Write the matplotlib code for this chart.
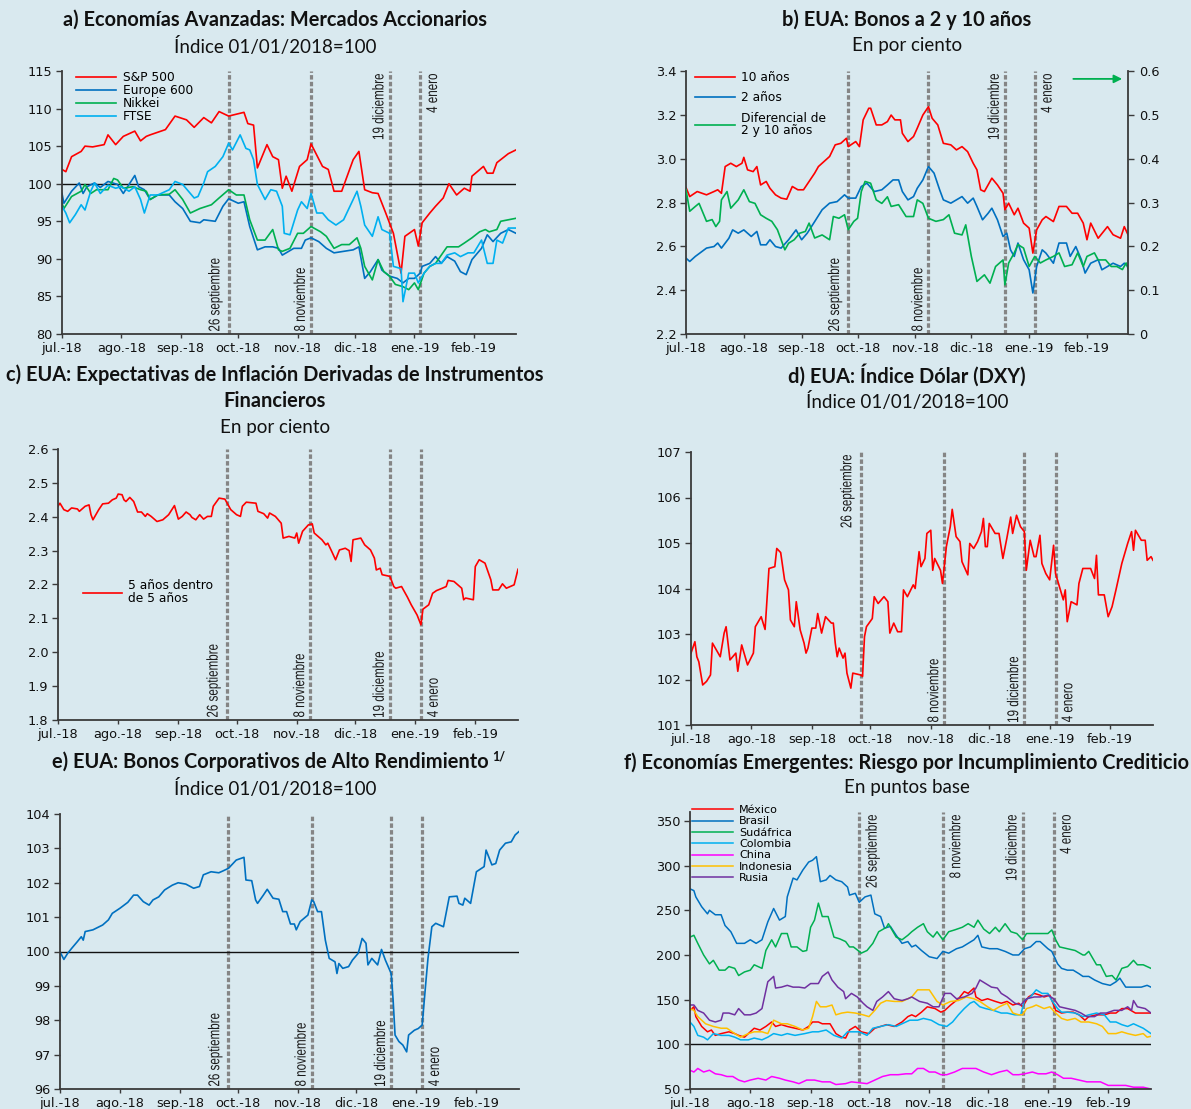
import numpy as np
import pandas as pd
import matplotlib
matplotlib.use('Agg')
import matplotlib.pyplot as plt
import matplotlib.dates as mdates
import matplotlib.transforms as mtransforms
from matplotlib.textpath import TextPath
from matplotlib.patches import PathPatch
from matplotlib.font_manager import FontProperties

# --- colores y fuentes ---
BG = '#d9e9ef'
AXC = '#3a3a3a'
RED = '#ff0000'
BLUE = '#0070c0'
GREEN = '#00b050'
LBLUE = '#00b0f0'
MAGENTA = '#ff00ff'
GOLD = '#ffc000'
PURPLE = '#7030a0'
GRAY = '#858585'
TITLE_FONT = ['Lato', 'DejaVu Sans']
TICK_FONT = ['DejaVu Sans']
TICK_SIZE = 9.3
EV_FP = FontProperties(family='Liberation Sans')
EV_SIZE_PX = 11.3 * 100 / 72
EV_SX = 0.74   # letra angosta

W, H = 1191, 1109

# --- eje de tiempo ---
base = pd.Timestamp('2018-07-01')
x_end = pd.Timestamp('2019-02-23')
month_starts = pd.to_datetime(['2018-07-01', '2018-08-01', '2018-09-01', '2018-10-01',
                               '2018-11-01', '2018-12-01', '2019-01-01', '2019-02-01'])
month_labels = ['jul.-18', 'ago.-18', 'sep.-18', 'oct.-18', 'nov.-18', 'dic.-18', 'ene.-19', 'feb.-19']
event_dates = pd.to_datetime(['2018-09-26', '2018-11-08', '2018-12-19', '2019-01-04'])
event_labels = ['26 septiembre', '8 noviembre', '19 diciembre', '4 enero']

# --- datos (día desde 01/07/2018, valor) ---
# a) mercados accionarios
sp500 = [(0,101.9),(2,101.6),(5,103.6),(10,104.3),(12,105.0),(16,104.9),(22,105.2),(24,106.5),(28,105.2),(32,106.3),
         (38,107.0),(41,105.7),(44,106.3),(46,106.5),(54,107.2),(59,109.0),(65,108.5),(69,107.5),(74,108.8),(78,108.1),
         (82,109.6),(87,109.0),(95,109.5),(97,108.0),(100,107.8),(102,102.1),(107,105.2),(110,103.6),(113,103.2),(115,99.4),
         (117,101.0),(120,99.0),(124,102.3),(128,103.2),(130,105.3),(136,102.3),(139,101.9),(142,99.0),(146,99.0),(152,103.2),
         (155,104.3),(158,99.2),(162,98.8),(165,98.7),(169,96.1),(173,93.4),(177,88.1),(179,93.0),(184,93.9),(186,91.7),
         (188,94.8),(192,96.1),(195,97.0),(199,98.1),(202,100.0),(206,98.5),(210,99.4),(213,99.0),(214,101.0),(220,102.3),
         (222,101.4),(225,101.4),(227,102.8),(233,104.0),(237,104.5)]
europe600 = [(0,98.7),(1,97.4),(5,99.0),(9,100.1),(11,98.7),(13,99.6),(17,100.1),(20,99.5),(24,100.3),(29,99.9),
             (32,98.7),(35,99.9),(38,101.1),(40,99.6),(43,99.2),(46,97.9),(50,98.5),(56,98.5),(59,97.6),(63,96.7),
             (67,95.0),(72,94.8),(74,95.2),(80,95.0),(84,97.0),(87,98.0),(92,97.4),(95,97.6),(98,94.3),(102,91.2),
             (106,91.6),(110,91.6),(113,91.4),(115,90.5),(117,90.8),(121,91.4),(125,91.4),(127,92.5),(130,92.8),(134,92.3),
             (138,91.4),(142,90.8),(147,91.0),(152,91.2),(155,91.6),(158,87.4),(161,88.3),(165,89.9),(167,88.5),(171,87.7),
             (175,87.4),(178,86.8),(181,87.4),(184,87.4),(187,88.1),(188,89.0),(192,89.4),(195,90.3),(198,89.4),(201,90.3),
             (205,89.7),(208,88.3),(211,87.9),(214,89.9),(219,91.4),(222,93.2),(225,92.3),(229,93.4),(233,93.9),(237,93.4)]
nikkei = [(0,97.4),(1,96.7),(5,98.3),(10,99.0),(12,99.9),(15,98.7),(18,99.2),(24,99.2),(27,100.7),(29,100.5),
          (32,99.4),(37,99.6),(41,99.2),(44,99.0),(46,97.9),(50,98.5),(56,98.6),(59,99.2),(63,97.9),(67,96.1),
          (72,96.7),(78,97.2),(82,98.1),(87,99.2),(91,98.5),(95,98.5),(98,95.2),(102,92.5),(106,92.5),(110,93.9),
          (113,91.2),(115,91.0),(119,91.4),(123,93.4),(126,93.4),(130,94.3),(135,93.6),(138,93.0),(142,91.4),(146,91.9),
          (150,91.9),(154,92.8),(156,91.4),(158,89.0),(162,87.2),(165,89.9),(168,88.3),(171,87.7),(174,86.6),(178,86.3),
          (181,85.9),(184,86.8),(186,85.9),(189,88.1),(192,89.0),(195,89.4),(201,91.6),(207,91.6),(210,92.1),(214,92.8),
          (218,93.6),(221,93.9),(223,93.6),(227,93.9),(229,95.0),(233,95.2),(237,95.4)]
ftse = [(0,97.0),(2,96.1),(4,94.8),(7,95.9),(10,97.2),(12,96.5),(15,99.0),(17,100.1),(20,98.7),(24,99.8),
        (28,99.4),(31,99.6),(35,99.0),(38,99.6),(41,97.9),(43,96.1),(46,98.5),(50,98.5),(56,99.2),(59,100.3),
        (63,99.9),(69,98.1),(71,98.3),(74,100.1),(76,101.6),(80,102.3),(84,103.6),(87,105.4),(89,104.5),(93,106.5),
        (96,104.7),(98,104.5),(100,103.2),(102,99.9),(106,97.9),(109,99.2),(112,99.0),(115,97.0),(116,93.4),(119,93.2),
        (123,96.5),(125,97.6),(128,96.7),(130,98.7),(133,96.1),(136,96.1),(139,95.2),(143,94.5),(147,95.2),(152,97.9),
        (154,99.0),(156,97.0),(158,94.5),(162,93.0),(165,95.6),(167,93.9),(171,93.4),(173,89.0),(177,88.7),(178,84.3),
        (181,88.1),(184,88.1),(186,86.8),(189,88.1),(192,89.0),(195,89.4),(198,89.4),(201,90.5),(205,90.8),(208,90.3),
        (212,90.8),(215,90.8),(219,92.5),(222,89.4),(225,89.4),(227,92.5),(230,92.1),(233,94.1),(237,94.1)]

# b) bonos 2 y 10 años
bono10 = [(0,2.868),(2,2.827),(6,2.850),(11,2.835),(15,2.850),(17,2.858),(19,2.842),(21,2.964),(24,2.979),(27,2.964),
          (30,2.979),(31,3.006),(33,2.949),(36,2.941),(38,2.964),(40,2.880),(43,2.896),(45,2.865),(48,2.835),(51,2.820),
          (54,2.815),(57,2.873),(60,2.858),(63,2.858),(66,2.896),(69,2.934),(71,2.964),(74,2.987),(77,3.010),(80,3.063),
          (83,3.070),(86,3.093),(87,3.055),(91,3.078),(93,3.055),(95,3.177),(98,3.230),(99,3.230),(102,3.154),(105,3.154),
          (108,3.169),(110,3.199),(112,3.177),(115,3.177),(116,3.116),(119,3.078),(122,3.101),(124,3.139),(127,3.199),(130,3.237),
          (132,3.184),(135,3.154),(138,3.070),(142,3.063),(145,3.040),(148,3.055),(151,3.032),(154,2.979),(156,2.949),(158,2.858),
          (160,2.850),(164,2.911),(167,2.880),(170,2.842),(171,2.767),(173,2.797),(176,2.744),(178,2.774),(181,2.706),(184,2.683),
          (186,2.569),(188,2.675),(191,2.721),(193,2.736),(197,2.713),(200,2.782),(204,2.782),(207,2.751),(210,2.751),(213,2.706),
          (215,2.630),(217,2.706),(221,2.637),(226,2.690),(229,2.653),(233,2.637),(235,2.690),(237,2.653)]
bono2 = [(0,2.546),(2,2.531),(5,2.554),(11,2.592),(15,2.599),(17,2.615),(19,2.592),(23,2.637),(25,2.675),(28,2.660),
         (31,2.675),(35,2.645),(38,2.668),(40,2.607),(43,2.607),(45,2.630),(48,2.599),(51,2.592),(55,2.630),(59,2.675),
         (62,2.630),(65,2.660),(69,2.713),(73,2.767),(77,2.797),(81,2.804),(85,2.835),(87,2.820),(91,2.820),(94,2.873),
         (97,2.888),(101,2.850),(105,2.858),(108,2.880),(111,2.903),(114,2.903),(116,2.850),(119,2.812),(122,2.827),(124,2.865),
         (127,2.903),(130,2.964),(133,2.934),(136,2.858),(138,2.812),(142,2.797),(145,2.812),(148,2.827),(151,2.797),(154,2.820),
         (156,2.782),(159,2.721),(162,2.751),(164,2.774),(167,2.721),(170,2.645),(172,2.660),(174,2.584),(176,2.554),(178,2.615),
         (181,2.539),(184,2.493),(186,2.387),(188,2.508),(191,2.584),(193,2.569),(197,2.523),(200,2.615),(204,2.615),(206,2.554),
         (209,2.599),(212,2.539),(214,2.478),(217,2.523),(221,2.539),(223,2.493),(226,2.508),(229,2.523),(233,2.508),(235,2.523),
         (237,2.508)]
diferencial = [(0,0.329),(2,0.280),(5,0.291),(7,0.298),(11,0.257),(14,0.261),(16,0.245),(18,0.257),(19,0.306),(22,0.325),
               (24,0.287),(28,0.306),(31,0.329),(34,0.302),(37,0.298),(40,0.272),(43,0.264),(46,0.257),(49,0.238),(53,0.192),
               (55,0.207),(58,0.215),(61,0.230),(64,0.234),(66,0.253),(69,0.219),(73,0.226),(77,0.215),(79,0.268),(82,0.264),
               (85,0.272),(87,0.238),(90,0.257),(92,0.264),(94,0.325),(96,0.348),(99,0.344),(102,0.306),(105,0.298),(108,0.313),
               (110,0.291),(114,0.295),(118,0.268),(122,0.268),(124,0.306),(127,0.298),(130,0.264),(134,0.257),(138,0.261),(141,0.272),
               (144,0.230),(148,0.226),(150,0.249),(153,0.177),(156,0.120),(160,0.135),(163,0.116),(166,0.154),(170,0.169),(171,0.112),
               (173,0.162),(176,0.185),(178,0.204),(181,0.196),(184,0.154),(187,0.177),(190,0.162),(193,0.169),(197,0.177),(200,0.185),
               (203,0.154),(207,0.158),(210,0.185),(213,0.154),(215,0.177),(219,0.185),(221,0.169),(225,0.169),(228,0.154),(231,0.154),
               (234,0.147),(236,0.162),(237,0.150)]

# c) expectativas de inflación 5y5y
inf5y5 = [(0,2.431),(1,2.440),(3,2.421),(5,2.416),(7,2.426),(10,2.423),(11,2.416),(14,2.431),(16,2.435),(17,2.406),
          (18,2.391),(21,2.421),(23,2.438),(26,2.440),(28,2.450),(30,2.455),(31,2.467),(33,2.465),(34,2.450),(35,2.445),
          (37,2.457),(39,2.445),(41,2.414),(43,2.414),(45,2.401),(46,2.409),(48,2.401),(51,2.386),(54,2.391),(57,2.406),
          (60,2.433),(62,2.393),(64,2.401),(66,2.414),(68,2.406),(69,2.398),(71,2.391),(73,2.406),(75,2.393),(77,2.401),
          (79,2.401),(80,2.431),(83,2.455),(86,2.452),(89,2.421),(92,2.406),(94,2.401),(95,2.431),(97,2.443),(102,2.440),
          (103,2.416),(106,2.409),(108,2.396),(109,2.411),(112,2.401),(115,2.381),(116,2.337),(119,2.342),(122,2.337),(123,2.352),
          (124,2.322),(126,2.357),(129,2.376),(131,2.379),(132,2.352),(136,2.332),(138,2.317),(139,2.322),(141,2.298),(143,2.273),
          (145,2.302),(148,2.307),(150,2.300),(151,2.268),(152,2.332),(156,2.337),(158,2.317),(161,2.302),(163,2.278),(164,2.243),
          (166,2.248),(167,2.229),(171,2.224),(173,2.194),(174,2.189),(177,2.194),(180,2.163),(182,2.140),(185,2.110),(187,2.081),
          (188,2.127),(191,2.140),(193,2.174),(195,2.182),(198,2.189),(200,2.194),(201,2.212),(204,2.209),(206,2.199),(208,2.189),
          (209,2.155),(210,2.160),(214,2.155),(215,2.253),(217,2.273),(220,2.263),(223,2.214),(224,2.184),(227,2.184),(229,2.202),
          (231,2.189),(235,2.199),(237,2.245)]

# d) índice dólar
dxy = [(0,102.58),(2,102.83),(3,102.50),(4,102.39),(6,101.88),(8,101.96),(10,102.10),(11,102.80),(13,102.65),(15,102.50),
       (17,103.02),(18,103.16),(20,102.43),(23,102.58),(24,102.18),(26,102.76),(29,102.32),(32,102.58),(33,103.16),(36,103.38),
       (38,103.10),(40,104.44),(43,104.48),(44,104.88),(46,104.79),(48,104.19),(50,103.97),(51,103.31),(53,103.16),(54,103.71),
       (56,103.09),(58,102.80),(59,102.58),(60,102.69),(62,103.13),(64,103.13),(65,103.45),(67,103.02),(69,103.38),(72,103.24),
       (73,103.24),(74,102.80),(75,102.50),(76,102.69),(78,102.47),(79,102.58),(80,102.14),(82,101.81),(83,102.14),(87,102.10),
       (88,102.07),(89,102.94),(90,103.16),(93,103.34),(94,103.82),(96,103.67),(99,103.82),(101,103.71),(102,103.02),(104,103.24),
       (106,103.05),(108,103.05),(109,103.97),(111,103.82),(114,104.08),(115,104.00),(117,104.81),(118,104.48),(120,104.66),(121,105.21),
       (123,105.28),(124,104.40),(125,104.66),(128,104.40),(129,104.11),(131,104.92),(133,105.36),(134,105.74),(136,105.14),(138,105.03),
       (139,104.59),(142,104.30),(143,104.99),(145,104.88),(147,105.03),(149,105.25),(150,105.54),(151,104.92),(152,104.92),(153,105.43),
       (156,105.21),(158,105.21),(160,104.66),(162,105.10),(164,105.57),(165,105.21),(167,105.61),(169,105.36),(171,105.25),(172,104.40),
       (174,105.06),(176,104.70),(177,104.70),(179,105.17),(180,104.55),(182,104.33),(184,104.19),(186,104.95),(187,104.33),(189,104.04),
       (191,103.75),(192,103.97),(193,103.27),(195,103.71),(198,103.64),(199,104.11),(201,104.44),(205,104.44),(207,104.22),(208,104.73),
       (209,103.86),(212,103.86),(214,103.38),(216,103.60),(218,103.97),(221,104.55),(224,104.99),(226,105.25),(227,104.84),(228,105.28),
       (231,105.06),(233,105.06),(234,104.62),(236,104.70),(237,104.62)]

# e) bonos corporativos de alto rendimiento
alto_rend = [(0,99.99),(2,99.77),(4,99.95),(6,100.09),(9,100.29),(11,100.43),(12,100.33),(13,100.58),(17,100.63),(22,100.77),
             (25,100.92),(27,101.11),(31,101.26),(35,101.43),(38,101.64),(40,101.64),(43,101.45),(46,101.35),(48,101.50),(51,101.59),
             (54,101.79),(58,101.93),(61,102.00),(65,101.96),(69,101.84),(72,101.89),(74,102.23),(78,102.32),(82,102.29),(84,102.34),
             (87,102.42),(91,102.66),(95,102.74),(96,102.08),(99,102.06),(101,101.50),(102,101.40),(105,101.64),(107,101.81),(110,101.55),
             (113,101.52),(115,101.16),(117,101.16),(119,100.80),(121,100.80),(122,100.63),(124,100.87),(128,101.06),(130,101.50),(131,101.45),
             (133,101.16),(135,101.16),(137,100.33),(139,99.80),(142,99.70),(143,99.36),(144,99.65),(146,99.51),(149,99.56),(151,99.75),
             (154,99.95),(156,100.38),(158,100.24),(159,99.61),(161,99.80),(164,99.61),(166,100.06),(168,99.75),(171,99.36),(172,98.59),
             (173,97.57),(175,97.38),(177,97.28),(179,97.08),(180,97.57),(183,97.71),(185,97.76),(187,97.86),(189,99.17),(190,99.80),
             (192,100.72),(194,100.82),(198,100.72),(199,101.01),(201,101.59),(205,101.61),(206,101.40),(208,101.35),(209,101.55),(212,101.40),
             (215,102.32),(219,102.47),(220,102.95),(223,102.52),(225,102.56),(227,102.95),(230,103.15),(233,103.19),(235,103.39),(237,103.49)]

# f) CDS economías emergentes
mexico = [(0,138),(2,142),(3,131),(6,120),(9,114),(11,116),(13,110),(16,112),(20,114),(23,112),(25,110),(28,108),(31,114),
          (33,118),(36,116),(39,120),(42,125),(44,120),(47,122),(50,120),(54,118),(58,116),(61,120),(63,125),(66,125),(68,123),
          (72,123),(75,112),(78,108),(80,107),(82,116),(85,120),(88,114),(92,112),(95,118),(98,120),(101,122),(105,120),(109,125),
          (112,131),(114,133),(116,131),(119,136),(122,142),(126,140),(129,136),(131,138),(134,144),(138,151),(141,159),(143,157),
          (146,163),(147,153),(150,149),(153,151),(157,148),(160,146),(163,148),(166,144),(169,146),(171,142),(174,153),(177,157),
          (180,155),(182,153),(185,155),(188,138),(191,135),(194,136),(197,136),(200,133),(203,127),(205,131),(209,133),(213,133),
          (216,135),(219,135),(222,140),(225,140),(229,135),(233,135),(237,135)]
brasil = [(0,274),(2,272),(3,265),(6,254),(9,246),(10,250),(13,245),(16,245),(18,233),(21,226),(24,213),(28,213),(31,217),
          (34,213),(37,217),(40,237),(43,252),(46,239),(49,243),(50,265),(53,286),(55,284),(58,295),(61,304),(63,306),(65,310),
          (67,282),(70,284),(72,289),(75,284),(78,282),(81,276),(82,267),(85,269),(87,259),(90,265),(93,267),(95,246),(98,243),
          (100,230),(103,232),(106,222),(109,213),(112,215),(114,209),(116,211),(119,205),(123,198),(127,196),(130,204),(133,202),
          (137,207),(140,209),(143,213),(146,217),(148,222),(150,209),(154,207),(158,207),(162,204),(166,200),(169,200),(172,207),
          (175,209),(178,215),(180,215),(184,207),(186,204),(189,190),(191,185),(194,183),(197,183),(200,179),(202,176),(205,176),
          (208,172),(212,168),(216,166),(219,170),(221,174),(224,164),(228,164),(232,164),(235,166),(237,164)]
sudafrica = [(0,220),(2,222),(4,213),(7,200),(10,190),(12,194),(15,183),(18,183),(20,187),(23,185),(25,177),(28,181),(31,183),
             (33,189),(37,185),(39,205),(42,217),(44,209),(47,224),(50,224),(52,209),(55,209),(58,204),(60,205),(62,231),(64,239),
             (66,258),(68,243),(71,243),(74,220),(77,218),(80,215),(82,209),(84,209),(87,204),(88,202),(91,205),(94,213),(97,226),
             (101,231),(102,235),(106,220),(109,217),(112,222),(114,226),(117,231),(120,235),(122,226),(125,220),(127,226),(130,217),
             (133,226),(136,228),(140,231),(143,235),(146,231),(148,239),(151,229),(154,224),(157,231),(159,226),(162,235),(165,226),
             (168,224),(171,217),(173,224),(177,224),(180,224),(184,224),(186,228),(188,217),(190,209),(194,207),(198,205),(202,200),
             (203,200),(205,204),(209,189),(211,189),(214,176),(217,177),(219,172),(222,185),(225,187),(228,194),(230,189),(233,189),
             (237,185)]
colombia = [(0,125),(2,120),(4,110),(7,108),(9,105),(12,112),(16,110),(20,110),(23,108),(26,105),(30,105),(33,107),(37,105),
            (40,108),(43,112),(47,110),(50,112),(54,110),(59,112),(63,114),(66,114),(70,116),(74,110),(78,107),(81,114),(87,114),
            (91,110),(94,118),(98,120),(102,122),(106,120),(109,123),(113,127),(117,127),(120,129),(124,127),(128,122),(132,120),
            (135,125),(138,133),(141,140),(144,146),(146,148),(149,142),(152,140),(156,138),(160,135),(163,135),(167,133),(170,133),
            (172,149),(175,153),(178,161),(181,157),(184,157),(186,149),(189,140),(191,136),(194,136),(198,135),(202,131),(205,133),
            (209,135),(213,133),(216,125),(219,125),(222,122),(225,120),(228,123),(233,118),(237,112)]
china = [(0,71),(2,69),(4,73),(7,69),(10,71),(13,67),(16,66),(19,64),(22,64),(25,60),(28,58),(31,60),(35,62),(39,60),
         (42,64),(46,62),(49,60),(53,58),(56,56),(60,60),(64,60),(68,58),(72,58),(75,55),(80,56),(83,58),(87,57),(91,56),
         (95,60),(99,64),(103,66),(107,66),(111,67),(114,67),(117,73),(120,73),(123,69),(126,69),(129,66),(132,66),(136,69),
         (140,73),(144,73),(147,73),(151,69),(155,66),(159,69),(163,71),(166,66),(169,66),(172,67),(176,69),(179,67),(183,67),
         (186,69),(189,66),(192,62),(196,62),(200,60),(204,58),(208,58),(211,58),(215,54),(220,54),(224,54),(228,52),(233,52),
         (237,50)]
indonesia = [(0,140),(2,138),(4,131),(8,123),(12,120),(16,118),(19,118),(23,112),(26,108),(30,112),(33,114),(37,114),(40,112),
             (43,127),(47,123),(50,123),(54,120),(58,116),(61,118),(63,131),(65,148),(67,142),(70,142),(73,144),(75,133),(78,135),
             (81,136),(85,135),(89,133),(92,131),(95,138),(98,146),(101,149),(105,148),(109,148),(112,151),(114,153),(117,161),
             (123,161),(127,148),(130,144),(134,148),(138,149),(142,153),(146,151),(149,148),(153,142),(156,138),(159,142),(163,146),
             (166,135),(169,133),(171,133),(173,140),(176,142),(178,144),(182,140),(185,142),(188,135),(191,129),(194,127),(198,129),
             (201,125),(205,125),(209,123),(212,120),(215,112),(219,112),(222,114),(225,112),(229,110),(233,112),(235,108),(237,109)]
rusia = [(0,144),(2,144),(4,138),(7,135),(10,127),(13,125),(16,127),(17,135),(20,135),(23,133),(25,140),(28,133),(31,133),
         (34,135),(37,140),(40,170),(43,176),(44,163),(47,164),(50,166),(53,164),(56,164),(59,163),(62,168),(66,168),(68,176),
         (71,181),(73,172),(76,164),(79,159),(80,151),(83,157),(86,153),(89,146),(91,142),(94,138),(96,148),(99,153),(102,159),
         (105,151),(109,149),(112,151),(114,153),(118,148),(122,146),(125,142),(128,142),(131,157),(134,157),(137,151),(141,153),
         (145,157),(147,163),(149,172),(152,168),(155,164),(158,163),(160,157),(163,153),(167,146),(170,144),(173,151),(177,153),
         (180,153),(184,155),(187,151),(190,142),(194,140),(198,138),(201,135),(204,131),(208,131),(211,135),(214,135),(218,138),
         (222,138),(225,142),(227,138),(228,149),(230,142),(234,140),(237,135)]


def serie(pares):
    d, v = np.array(pares, dtype=float).T
    return base + pd.to_timedelta(d, unit='D'), v


fig = plt.figure(figsize=(W / 100, H / 100), dpi=100)
fig.patch.set_facecolor(BG)


def panel(x0, y0, x1, y1):
    return fig.add_axes([x0 / W, 1 - y1 / H, (x1 - x0) / W, (y1 - y0) / H])


def head(x, y, s, bold=False, ha='center'):
    return fig.text(x / W, 1 - y / H, s, ha=ha, va='center', fontsize=14.4 if bold else 13.5,
                    family=TITLE_FONT, fontweight='bold' if bold else 'normal', color='#111111')


def estilo(ax, ylim, yticks, ylabels):
    ax.set_facecolor('none')
    for s in ['top', 'right']:
        ax.spines[s].set_visible(False)
    for s in ['left', 'bottom']:
        ax.spines[s].set_color(AXC)
        ax.spines[s].set_linewidth(1.3)
    ax.set_xlim(base, x_end)
    ax.set_xticks(month_starts)
    ax.set_xticklabels(month_labels, family=TICK_FONT, fontsize=TICK_SIZE)
    ax.set_ylim(*ylim)
    ax.set_yticks(yticks)
    ax.set_yticklabels(ylabels, family=TICK_FONT, fontsize=TICK_SIZE)
    ax.tick_params(axis='x', length=3, width=1, color=AXC, pad=2.5, labelcolor='#111111')
    ax.tick_params(axis='y', length=4, width=1, color=AXC, pad=3, labelcolor='#111111')


def eventos(ax, lugares):
    # línea punteada por fecha + etiqueta vertical en letra angosta
    for d, lab, (lado, vert) in zip(event_dates, event_labels, lugares):
        ax.axvline(d, color=GRAY, lw=2.3, ls=(0, (1.4, 0.7)), zorder=1)
        tp = TextPath((0, 0), lab, size=EV_SIZE_PX, prop=EV_FP)
        bb = tp.get_extents()
        gap, pad = 6, 3
        tx = -gap + bb.y0 if lado == 'l' else gap + bb.y1
        if vert == 'b':
            ty, yf = pad - EV_SX * bb.x0, 0.0
        else:
            ty, yf = -pad - EV_SX * bb.x1, 1.0
        loc = mtransforms.Affine2D().scale(EV_SX, 1).rotate_deg(90).translate(tx, ty)
        anchor = mtransforms.ScaledTranslation(mdates.date2num(d), yf, ax.get_xaxis_transform())
        ax.add_artist(PathPatch(tp, transform=loc + anchor, facecolor='#1a1a1a', edgecolor='none',
                                clip_on=False, zorder=3))


# --- a) Economías Avanzadas ---
head(275, 20, 'a) Economías Avanzadas: Mercados Accionarios', bold=True)
head(275, 46, 'Índice 01/01/2018=100')
ax = panel(62, 71, 516, 334)
yt = [80, 85, 90, 95, 100, 105, 110, 115]
estilo(ax, (80, 115), yt, [str(v) for v in yt])
eventos(ax, [('l', 'b'), ('l', 'b'), ('l', 't'), ('r', 't')])
ax.axhline(100, color='#111111', lw=1.0, zorder=1.5)
for pares, col, lab in [(sp500, RED, 'S&P 500'), (europe600, BLUE, 'Europe 600'),
                        (nikkei, GREEN, 'Nikkei'), (ftse, LBLUE, 'FTSE')]:
    x, y = serie(pares)
    ax.plot(x, y, color=col, lw=1.2, label=lab, zorder=2)
ax.legend(loc='upper left', bbox_to_anchor=(0.031, 1.0), frameon=False, prop={'family': TICK_FONT, 'size': 8.8},
          handlelength=3.3, handletextpad=0.5, labelspacing=0.0, borderpad=0, borderaxespad=0)

# --- b) Bonos 2 y 10 años ---
head(907, 20, 'b) EUA: Bonos a 2 y 10 años', bold=True)
head(907, 46, 'En por ciento')
ax = panel(686, 71, 1128, 334)
yt = [2.2, 2.4, 2.6, 2.8, 3.0, 3.2, 3.4]
estilo(ax, (2.2, 3.4), yt, ['%.1f' % v for v in yt])
eventos(ax, [('l', 'b'), ('l', 'b'), ('l', 't'), ('r', 't')])
ax2 = ax.twinx()
ax2.set_facecolor('none')
for s in ['top', 'left', 'bottom']:
    ax2.spines[s].set_visible(False)
ax2.spines['right'].set_color(AXC)
ax2.spines['right'].set_linewidth(1.3)
rt = [0, 0.1, 0.2, 0.3, 0.4, 0.5, 0.6]
ax2.set_ylim(0, 0.6)
ax2.set_yticks(rt)
ax2.set_yticklabels(['0'] + ['%.1f' % v for v in rt[1:]], family=TICK_FONT, fontsize=TICK_SIZE)
ax2.tick_params(axis='y', length=4, width=1, color=AXC, pad=4, labelcolor='#111111')
x, y = serie(bono10)
l1, = ax.plot(x, y, color=RED, lw=1.2, label='10 años', zorder=2)
x, y = serie(bono2)
l2, = ax.plot(x, y, color=BLUE, lw=1.2, label='2 años', zorder=2)
x, y = serie(diferencial)
l3, = ax2.plot(x, y, color=GREEN, lw=1.2, label='Diferencial de\n2 y 10 años', zorder=2)
leg = ax2.legend(handles=[l1, l2, l3], loc='upper left', bbox_to_anchor=(0.02, 1.0), frameon=False,
                 prop={'family': TICK_FONT, 'size': 8.8}, handlelength=3.3, handletextpad=0.5,
                 labelspacing=0.6, borderpad=0, borderaxespad=0)
for t in leg.get_texts():
    t.set_linespacing(0.95)
ax2.annotate('', xy=(0.993, 0.97), xytext=(0.87, 0.97), xycoords='axes fraction',
             arrowprops=dict(arrowstyle='-|>', color=GREEN, lw=1.3, mutation_scale=12))

# --- c) Expectativas de inflación ---
head(275, 375, 'c) EUA: Expectativas de Inflación Derivadas de Instrumentos', bold=True)
head(275, 401, 'Financieros', bold=True)
head(275, 428, 'En por ciento')
ax = panel(58, 449, 518, 720)
yt = [1.8, 1.9, 2.0, 2.1, 2.2, 2.3, 2.4, 2.5, 2.6]
estilo(ax, (1.8, 2.6), yt, ['%.1f' % v for v in yt])
eventos(ax, [('l', 'b'), ('l', 'b'), ('l', 'b'), ('r', 'b')])
x, y = serie(inf5y5)
ax.plot(x, y, color=RED, lw=1.2, label='5 años dentro\nde 5 años', zorder=2)
leg = ax.legend(loc='center left', bbox_to_anchor=(0.054, 0.472), frameon=False,
                prop={'family': TICK_FONT, 'size': 8.8}, handlelength=3.2, handletextpad=0.5,
                borderpad=0, borderaxespad=0)
for t in leg.get_texts():
    t.set_linespacing(0.95)

# --- d) Índice Dólar ---
head(907, 375, 'd) EUA: Índice Dólar (DXY)', bold=True)
head(907, 401, 'Índice 01/01/2018=100')
ax = panel(691, 452, 1153, 725)
yt = [101, 102, 103, 104, 105, 106, 107]
estilo(ax, (101, 107), yt, [str(v) for v in yt])
eventos(ax, [('l', 't'), ('l', 'b'), ('l', 'b'), ('r', 'b')])
x, y = serie(dxy)
ax.plot(x, y, color=RED, lw=1.2, zorder=2)

# --- e) Bonos corporativos de alto rendimiento ---
t = head(270, 762, 'e) EUA: Bonos Corporativos de Alto Rendimiento', bold=True)
head(275, 788, 'Índice 01/01/2018=100')
ax = panel(60, 814, 519, 1089)
yt = [96, 97, 98, 99, 100, 101, 102, 103, 104]
estilo(ax, (96, 104), yt, [str(v) for v in yt])
ax.annotate('1/', xy=(1, 1), xycoords=t, xytext=(3, 1), textcoords='offset points', ha='left', va='top',
            fontsize=9, family=TITLE_FONT, fontweight='bold', color='#111111')
eventos(ax, [('l', 'b'), ('l', 'b'), ('l', 'b'), ('r', 'b')])
ax.axhline(100, color='#111111', lw=1.0, zorder=1.5)
x, y = serie(alto_rend)
ax.plot(x, y, color=BLUE, lw=1.2, zorder=2)

# --- f) Economías emergentes ---
head(624, 763, 'f) Economías Emergentes: Riesgo por Incumplimiento Crediticio', bold=True, ha='left')
head(907, 788, 'En puntos base')
ax = panel(690, 812, 1151, 1089)
yt = [50, 100, 150, 200, 250, 300, 350]
estilo(ax, (50, 360), yt, [str(v) for v in yt])
eventos(ax, [('r', 't'), ('r', 't'), ('l', 't'), ('r', 't')])
ax.axhline(100, color='#111111', lw=1.0, zorder=1.5)
for pares, col, lab in [(mexico, RED, 'México'), (brasil, BLUE, 'Brasil'), (sudafrica, GREEN, 'Sudáfrica'),
                        (colombia, LBLUE, 'Colombia'), (china, MAGENTA, 'China'), (indonesia, GOLD, 'Indonesia'),
                        (rusia, PURPLE, 'Rusia')]:
    x, y = serie(pares)
    ax.plot(x, y, color=col, lw=1.1, label=lab, zorder=2)
ax.legend(loc='upper left', bbox_to_anchor=(0.005, 1.025), frameon=False, prop={'family': TICK_FONT, 'size': 8.0},
          handlelength=3.7, handletextpad=0.5, labelspacing=0.12, borderpad=0, borderaxespad=0)

fig.savefig('out.png', dpi=100, facecolor=BG)
